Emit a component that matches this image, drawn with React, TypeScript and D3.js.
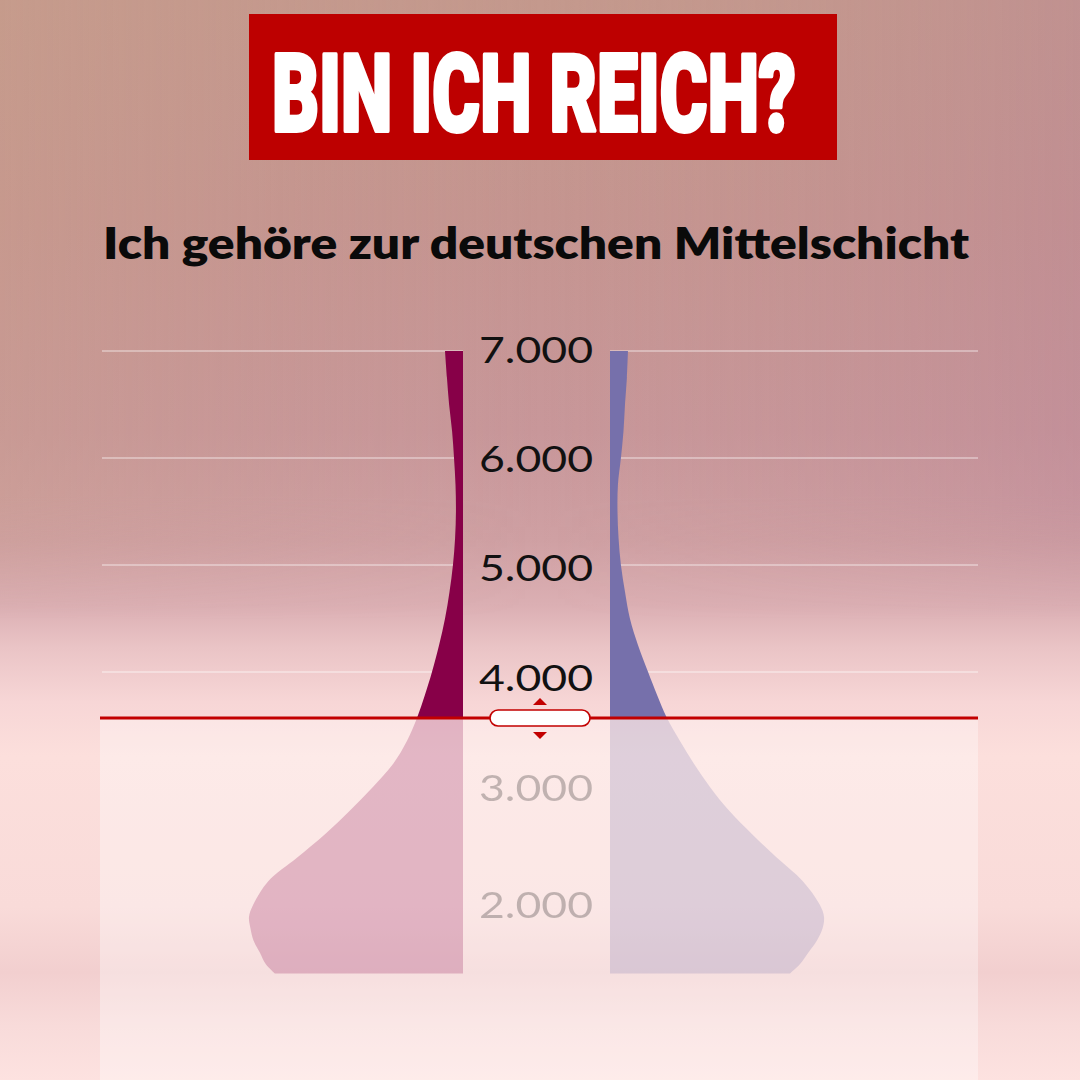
import React from "react";
import * as d3 from "d3";

// ---- data ----
const incomes = [7000, 6750, 6500, 6250, 6000, 5750, 5500, 5250, 5000, 4750, 4500, 4250, 4000, 3800, 3600, 3400, 3200, 3000, 2800, 2600, 2400, 2200, 2000, 1900, 1800, 1700, 1600, 1500, 1420];
const leftDensity = [8.4, 7.5, 6.5, 5.1, 4.2, 3.5, 3.3, 3.7, 4.7, 6.3, 8.4, 11.2, 14.5, 17.8, 21.5, 26.2, 32.7, 42.1, 52.8, 64.5, 77.6, 91.1, 98.1, 100, 99.3, 97.9, 95.0, 92.2, 87.9];
const rightDensity = [8.4, 7.9, 7.0, 6.3, 5.1, 3.7, 3.5, 4.0, 5.1, 7.0, 9.3, 13.1, 17.8, 22.0, 26.6, 32.7, 39.3, 46.7, 55.6, 66.4, 78.0, 90.2, 98.1, 100, 99.3, 96.7, 92.8, 88.8, 84.1];
const gridTicks = [4000, 5000, 6000, 7000];
const labelTicks = [2000, 3000, 4000, 5000, 6000, 7000];
const threshold = 3600;
const title = "BIN ICH REICH?";
const subtitle = "Ich gehöre zur deutschen Mittelschicht";

const fmt = (v: number) => d3.format(",")(v).replace(/,/g, ".");

export default function App() {
  const W = 1080, H = 1080;
  const plotL = 100, plotR = 978;
  const leftEdge = 463, rightEdge = 610, labelX = 536;

  const y = d3.scaleLinear().domain([1000, 2000, 3000, 4000, 7000]).range([1023, 905, 787, 672, 351]);
  // baseline positions of the tick labels
  const yLabel = d3.scaleLinear().domain([2000, 3000, 4000, 5000, 6000, 7000]).range([918, 801, 691, 581, 472, 363]);
  const w = d3.scaleLinear().domain([0, 100]).range([0, 214]);

  const rows = incomes.map((v, i) => ({ v, l: leftDensity[i], r: rightDensity[i] }));
  const leftArea = d3.area<any>().y((d) => y(d.v)).x0(leftEdge).x1((d) => leftEdge - w(d.l)).curve(d3.curveCatmullRom);
  const rightArea = d3.area<any>().y((d) => y(d.v)).x0(rightEdge).x1((d) => rightEdge + w(d.r)).curve(d3.curveCatmullRom);
  const lineY = y(threshold);
  const hx = labelX + 4;

  return (
    <svg width={W} height={H} style={{ position: "fixed", left: 0, top: 0 }}>
      <defs>
        <linearGradient id="bg" x1="0" y1="0" x2="0" y2="1">
          <stop offset="0" stopColor="#c4998d" />
          <stop offset="0.2" stopColor="#c59590" />
          <stop offset="0.4" stopColor="#c8979a" />
          <stop offset="0.5" stopColor="#cfa0a3" />
          <stop offset="0.56" stopColor="#dbafb3" />
          <stop offset="0.6" stopColor="#eac4c6" />
          <stop offset="0.65" stopColor="#f7d6d6" />
          <stop offset="0.7" stopColor="#fcdfdc" />
          <stop offset="0.84" stopColor="#f9dbd9" />
          <stop offset="0.9" stopColor="#f2cfcf" />
          <stop offset="0.95" stopColor="#f8dbda" />
          <stop offset="1" stopColor="#fde2e0" />
        </linearGradient>
        <linearGradient id="tint" x1="0" y1="0" x2="1" y2="0">
          <stop offset="0" stopColor="#caa08a" stopOpacity="0.35" />
          <stop offset="0.5" stopColor="#c69892" stopOpacity="0" />
          <stop offset="1" stopColor="#b88098" stopOpacity="0.3" />
        </linearGradient>
        <linearGradient id="tintMask" x1="0" y1="0" x2="0" y2="1">
          <stop offset="0" stopColor="#fff" />
          <stop offset="0.8" stopColor="#fff" />
          <stop offset="1" stopColor="#000" />
        </linearGradient>
        <mask id="tm">
          <rect x={0} y={0} width={W} height={620} fill="url(#tintMask)" />
        </mask>
        <clipPath id="above">
          <rect x={0} y={0} width={W} height={lineY} />
        </clipPath>
        <clipPath id="below">
          <rect x={0} y={lineY} width={W} height={H - lineY} />
        </clipPath>
      </defs>

      <rect x={0} y={0} width={W} height={H} fill="url(#bg)" />
      <rect x={0} y={0} width={W} height={620} fill="url(#tint)" mask="url(#tm)" />

      {/* title */}
      <rect x={249} y={14} width={588} height={146} fill="#bd0000" />
      <text x={272} y={131} fontFamily="Roboto, 'DejaVu Sans', sans-serif" fontWeight={900} fontSize={108}
        fill="#fff" stroke="#fff" strokeWidth={4} strokeLinejoin="round" textLength={524} lengthAdjust="spacingAndGlyphs">
        {title}
      </text>
      <text x={103} y={259} fontFamily="Lato, 'Open Sans', sans-serif" fontWeight={800} fontSize={43}
        fill="#0a0a0a" textLength={866} lengthAdjust="spacingAndGlyphs">
        {subtitle}
      </text>

      {/* gridlines */}
      {gridTicks.map((t) => (
        <g key={t}>
          <line x1={plotL + 2} x2={leftEdge} y1={y(t)} y2={y(t)} stroke="#fff" strokeOpacity={0.35} strokeWidth={2} />
          <line x1={rightEdge} x2={plotR} y1={y(t)} y2={y(t)} stroke="#fff" strokeOpacity={0.35} strokeWidth={2} />
        </g>
      ))}

      {/* violins above threshold */}
      <g clipPath="url(#above)">
        <path d={leftArea(rows) || ""} fill="#870048" />
        <path d={rightArea(rows) || ""} fill="#7670ab" />
      </g>

      {/* faded area below threshold */}
      <rect x={plotL} y={lineY} width={plotR - plotL} height={H - lineY} fill="#fff" opacity={0.34} />
      <g clipPath="url(#below)" opacity={0.22}>
        <path d={leftArea(rows) || ""} fill="#870048" />
        <path d={rightArea(rows) || ""} fill="#7670ab" />
      </g>

      {/* axis labels */}
      {labelTicks.map((t) => (
        <text key={t} x={labelX} y={yLabel(t)} textAnchor="middle" fontFamily="Lato, 'Open Sans', sans-serif"
          fontWeight={400} fontSize={36} fill="#111" opacity={t > threshold ? 1 : 0.25}
          textLength={114} lengthAdjust="spacingAndGlyphs">
          {fmt(t)}
        </text>
      ))}

      {/* threshold line and handle */}
      <line x1={plotL} x2={plotR} y1={lineY} y2={lineY} stroke="#c20000" strokeWidth={3} />
      <rect x={hx - 50} y={lineY - 8} width={100} height={16} rx={8} fill="#fff" stroke="#c20000" strokeWidth={1.6} />
      <path d={`M${hx - 7},${lineY - 13} L${hx + 7},${lineY - 13} L${hx},${lineY - 20} Z`} fill="#c20000" />
      <path d={`M${hx - 7},${lineY + 14} L${hx + 7},${lineY + 14} L${hx},${lineY + 21} Z`} fill="#c20000" />
    </svg>
  );
}
